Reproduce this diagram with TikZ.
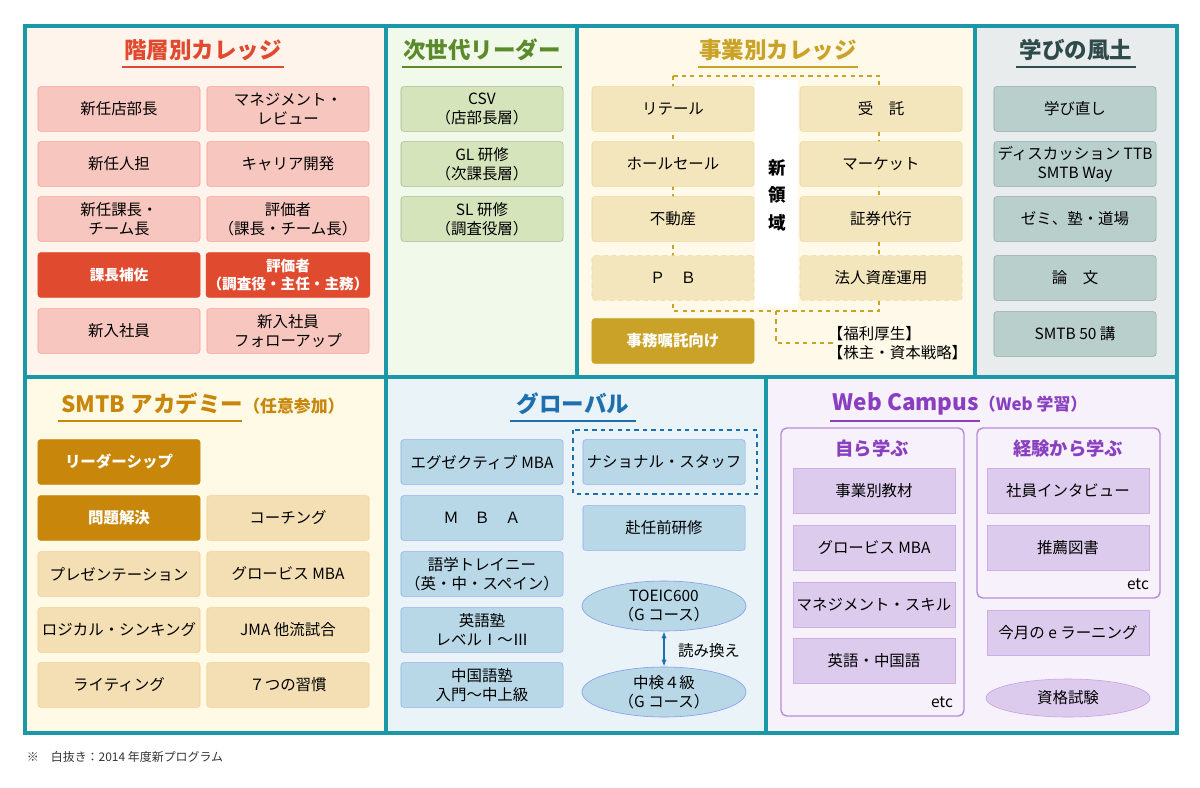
\documentclass[tikz,border=0pt]{standalone}
\usepackage{fontspec}
\setmainfont{Noto Sans CJK JP}
\usetikzlibrary{shapes.geometric,arrows.meta,positioning}
\definecolor{teal1}{HTML}{1A98A8}
\definecolor{redT}{HTML}{E04A2F}
\definecolor{greenT}{HTML}{5A8A2A}
\definecolor{goldT}{HTML}{C9A227}
\definecolor{greyT}{HTML}{2E4A4A}
\definecolor{orT}{HTML}{C8860A}
\definecolor{blueT}{HTML}{1E6FB0}
\definecolor{purT}{HTML}{8A3FC0}
\definecolor{pinkF}{HTML}{F7C6BE}
\definecolor{greenF}{HTML}{D6E4BC}
\definecolor{creamF}{HTML}{F3E6BC}
\definecolor{greyF}{HTML}{B9CFCC}
\definecolor{sandF}{HTML}{F4DFB4}
\definecolor{blueF}{HTML}{B8D8E8}
\definecolor{purF}{HTML}{DDCBEE}
\tikzset{%
	panel/.style={draw=teal1, line width=2.2pt},
	ttl/.style={font=\bfseries\fontsize{16}{18}\selectfont},
	bx/.style={minimum width=4.05cm, minimum height=1.12cm, rounded corners=2pt, inner sep=1pt, align=center, font=\fontsize{11}{13.5}\selectfont},
	pinkbox/.style={bx, fill=pinkF, draw=pinkF!80!red},
	redbox/.style={bx, fill=redT, draw=redT, text=white, font=\bfseries\fontsize{10.4}{13.5}\selectfont},
	greenbox/.style={bx, fill=greenF, draw=greenF!80!black},
	creambox/.style={bx, fill=creamF, draw=creamF!80!goldT},
	goldbox/.style={bx, fill=goldT, draw=goldT, text=white, font=\bfseries\fontsize{11}{13.5}\selectfont},
	greybox/.style={bx, fill=greyF, draw=greyF!80!black},
	sandbox/.style={bx, fill=sandF, draw=sandF!80!orange},
	orbox/.style={bx, fill=orT, draw=orT, text=white, font=\bfseries\fontsize{11}{13.5}\selectfont},
	bluebox/.style={bx, fill=blueF, draw=blueF!80!blue},
	purbox/.style={bx, fill=purF, draw=purF!80!purT, rounded corners=0pt},
	blueell/.style={ellipse, minimum width=4.1cm, minimum height=1.25cm, fill=blueF, draw=blueF!70!blue, align=center, inner sep=0pt, font=\fontsize{11}{13.5}\selectfont},
	gdash/.style={draw=goldT, dashed, line width=0.9pt}}
\begin{document}
\begin{tikzpicture}[x=0.025cm, y=-0.025cm]
	\useasboundingbox (0,0) rectangle (1200,787);
	% panel backgrounds
	\fill[red!5!orange!8] (25,26) rectangle (386,377);
	\fill[green!40!olive!8] (386,26) rectangle (577,377);
	\fill[yellow!50!orange!8] (577,26) rectangle (975,377);
	\fill[teal!20!gray!15] (975,26) rectangle (1177,377);
	\fill[orange!40!yellow!10] (25,377) rectangle (386,733);
	\fill[blueF!30] (386,377) rectangle (766,733);
	\fill[purT!7] (766,377) rectangle (1177,733);
	\draw[panel] (25,26) rectangle (1177,733);
	\draw[panel] (25,377) -- (1177,377);
	\draw[panel] (386,26) -- (386,733);
	\draw[panel] (577,26) -- (577,377);
	\draw[panel] (975,26) -- (975,377);
	\draw[panel] (766,377) -- (766,733);
	% titles
	\node[ttl, text=redT] (tKaiso) at (203,50) {階層別カレッジ};
	\draw[redT, thick] (122,67) -- (284,67);
	\node[ttl, text=greenT] (tJisedai) at (482,50) {次世代リーダー};
	\draw[greenT, thick] (402,67) -- (562,67);
	\node[ttl, text=goldT] (tJigyo) at (778,50) {事業別カレッジ};
	\draw[goldT, thick] (698,67) -- (858,67);
	\node[ttl, text=greyT] (tManabi) at (1076,50) {学びの風土};
	\draw[greyT, thick] (1016,67) -- (1136,67);
	\node[ttl, text=orT] (tAcad) at (203,404) {SMTB アカデミー{\fontsize{12}{14}\selectfont（任意参加）}};
	\draw[orT, thick] (58,421) -- (242,421);
	\node[ttl, text=blueT] (tGlobal) at (573,404) {グローバル};
	\draw[blueT, thick] (510,421) -- (636,421);
	\node[ttl, text=purT] (tWeb) at (960,404) {Web Campus{\fontsize{12}{14}\selectfont（Web 学習）}};
	\draw[purT, thick] (830,421) -- (980,421);
	% 階層別
	\node[pinkbox] (k1) at (119,109) {新任店部長};
	\node[pinkbox] (k2) at (288,109) {マネジメント・\\レビュー};
	\node[pinkbox] (k3) at (119,164) {新任人担};
	\node[pinkbox] (k4) at (288,164) {キャリア開発};
	\node[pinkbox] (k5) at (119,219) {新任課長・\\チーム長};
	\node[pinkbox] (k6) at (288,219) {評価者\\（課長・チーム長）};
	\node[redbox] (k7) at (119,275) {課長補佐};
	\node[redbox] (k8) at (288,275) {評価者\\（調査役・主任・主務）};
	\node[pinkbox] (k9) at (119,331) {新入社員};
	\node[pinkbox] (k10) at (288,331) {新入社員\\フォローアップ};
	% 次世代
	\node[greenbox] (j1) at (482,109) {CSV\\（店部長層）};
	\node[greenbox] (j2) at (482,164) {GL 研修\\（次課長層）};
	\node[greenbox] (j3) at (482,219) {SL 研修\\（調査役層）};
	% 事業別
	\draw[gdash] (673,76) rectangle (879,311);
	\fill[white] (755,80) rectangle (798,307);
	\draw[gdash] (776,311) -- (776,343) coordinate (kink) -- (835,343) coordinate (lblEnd);
	\node[creambox] (g1) at (673,109) {リテール};
	\node[creambox] (g2) at (673,164) {ホールセール};
	\node[creambox] (g3) at (673,219) {不動産};
	\node[creambox, dashed] (g4) at (673,278) {Ｐ　Ｂ};
	\node[creambox] (g5) at (881,109) {受　託};
	\node[creambox] (g6) at (881,164) {マーケット};
	\node[creambox] (g7) at (881,219) {証券代行};
	\node[creambox, dashed] (g8) at (881,278) {法人資産運用};
	\node[goldbox] (g9) at (673,341) {事務嘱託向け};
	\node[font=\bfseries\fontsize{12.5}{19.5}\selectfont, align=center] (shin) at (777,195) {新\\領\\域};
	\node[font=\fontsize{11}{13}\selectfont, align=left, anchor=west] (fuku) at (823,343) {【福利厚生】\\【株主・資本戦略】};
	% 学びの風土
	\node[greybox] (m1) at (1075,109) {学び直し};
	\node[greybox] (m2) at (1075,164) {ディスカッション TTB\\SMTB Way};
	\node[greybox] (m3) at (1075,219) {ゼミ、塾・道場};
	\node[greybox] (m4) at (1075,278) {論　文};
	\node[greybox] (m5) at (1075,334) {SMTB 50 講};
	% アカデミー
	\node[orbox] (a1) at (119,462) {リーダーシップ};
	\node[orbox] (a2) at (119,518) {問題解決};
	\node[sandbox] (a3) at (288,518) {コーチング};
	\node[sandbox] (a4) at (119,574) {プレゼンテーション};
	\node[sandbox] (a5) at (288,574) {グロービス MBA};
	\node[sandbox] (a6) at (119,630) {ロジカル・シンキング};
	\node[sandbox] (a7) at (288,630) {JMA 他流試合};
	\node[sandbox] (a8) at (119,685) {ライティング};
	\node[sandbox] (a9) at (288,685) {７つの習慣};
	% グローバル
	\node[bluebox] (b1) at (482,462) {エグゼクティブ MBA};
	\node[bluebox] (b2) at (482,518) {Ｍ　Ｂ　Ａ};
	\node[bluebox] (b3) at (482,574) {語学トレイニー\\（英・中・スペイン）};
	\node[bluebox] (b4) at (482,630) {英語塾\\レベルⅠ～Ⅲ};
	\node[bluebox] (b5) at (482,685) {中国語塾\\入門～中上級};
	\draw[blueT, dashed, line width=0.9pt] (573,430) rectangle (757,494);
	\node[bluebox] (b6) at (664,462) {ナショナル・スタッフ};
	\node[bluebox] (b7) at (664,528) {赴任前研修};
	\node[blueell] (b8) at (664,606) {TOEIC600\\（G コース）};
	\node[blueell] (b9) at (664,692) {中検４級\\（G コース）};
	\draw[blueT, line width=1.2pt, {Latex[length=5pt]}-{Latex[length=5pt]}] (b8) -- (b9);
	\node[font=\fontsize{11}{13}\selectfont] (yomi) at (709,651) {読み換え};
	% Web Campus
	\draw[purT!60, line width=1pt, rounded corners=4pt] (781,428) rectangle (964,716);
	\draw[purT!60, line width=1pt, rounded corners=4pt] (977,428) rectangle (1160,598);
	\node[font=\bfseries\fontsize{13}{15}\selectfont, text=purT] (wt1) at (872,449) {自ら学ぶ};
	\node[font=\bfseries\fontsize{13}{15}\selectfont, text=purT] (wt2) at (1068,449) {経験から学ぶ};
	\node[purbox] (w1) at (874,491) {事業別教材};
	\node[purbox] (w2) at (874,548) {グロービス MBA};
	\node[purbox] (w3) at (874,605) {マネジメント・スキル};
	\node[purbox] (w4) at (874,661) {英語・中国語};
	\node[font=\fontsize{11}{13}\selectfont] (etc1) at (942,702) {etc};
	\node[purbox] (w5) at (1068,491) {社員インタビュー};
	\node[purbox] (w6) at (1068,548) {推薦図書};
	\node[font=\fontsize{11}{13}\selectfont] (etc2) at (1138,584) {etc};
	\node[purbox] (w7) at (1068,633) {今月の e ラーニング};
	\node[ellipse, minimum width=4.1cm, minimum height=0.95cm, fill=purF, draw=purF!70!purT, font=\fontsize{11}{13.5}\selectfont] (w8) at (1068,698) {資格試験};
	% footnote
	\node[anchor=west, font=\fontsize{8.5}{10}\selectfont, text=black!80] (note) at (22,757) {※　白抜き：2014 年度新プログラム};
\end{tikzpicture}
\end{document}
